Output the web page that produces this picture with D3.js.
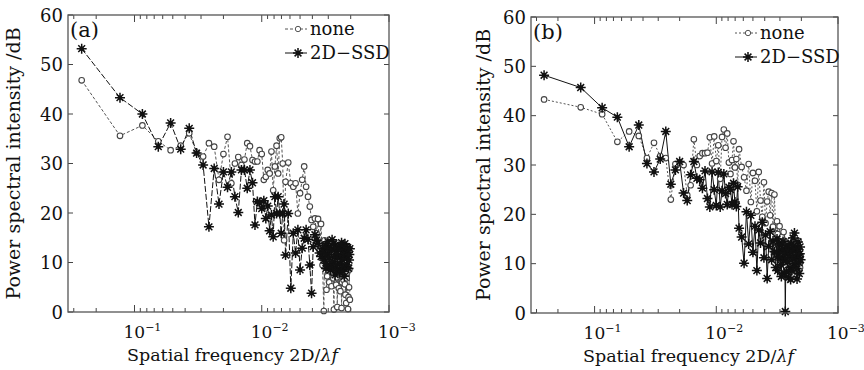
<!DOCTYPE html>
<html>
<head>
<meta charset="utf-8">
<script src="https://cdn.jsdelivr.net/npm/d3@7"></script>
<style>
  body { margin: 0; background: #fff; }
  text { font-family: "DejaVu Serif", serif; fill: #111; }
</style>
</head>
<body>
<script>
// spatial frequency grid (shared by both panels)
const freq = [0.26, 0.13, 0.08667, 0.065, 0.052, 0.04333, 0.03714, 0.0325, 0.02889, 0.026,
  0.02364, 0.02167, 0.02, 0.01857, 0.01733, 0.01625, 0.01529, 0.01444, 0.01368, 0.013,
  0.01238, 0.01182, 0.0113, 0.01083, 0.0104, 0.01, 0.00963, 0.00929, 0.00897, 0.00867,
  0.00839, 0.00813, 0.00788, 0.00765, 0.00743, 0.00722, 0.00703, 0.00684, 0.00667, 0.0065,
  0.00619, 0.00591, 0.00565, 0.00542, 0.0052, 0.005, 0.00481, 0.00464, 0.00448, 0.00433,
  0.00419, 0.00406, 0.00394, 0.00382, 0.00371, 0.00361, 0.00351, 0.00342, 0.00333,
  0.00325, 0.00321, 0.00317, 0.00313, 0.0031, 0.00306, 0.00302, 0.00299, 0.00295, 0.00292,
  0.00289, 0.00286, 0.00283, 0.0028, 0.00277, 0.00274, 0.00271, 0.00268, 0.00265, 0.00263,
  0.0026, 0.00257, 0.00255, 0.00252, 0.0025, 0.00248, 0.00245, 0.00243, 0.00241, 0.00239,
  0.00236, 0.00234, 0.00232, 0.0023, 0.00228, 0.00226, 0.00224, 0.00222, 0.0022, 0.00218,
  0.00217, 0.00215, 0.00213, 0.00211, 0.0021, 0.00208, 0.00206, 0.00205, 0.00203];

// panel (a)
const noneA = [46.8, 35.6, 37.7, 34.5, 32.7, 33.6, 36.1, 32.2, 31.4, 34.1,
  33.4, 26.7, 31.9, 35.4, 26.0, 30.0, 31.3, 29.7, 30.8, 34.1,
  33.5, 30.7, 30.4, 30.4, 32.7, 31.9, 26.7, 27.3, 28.7, 28.0,
  32.4, 24.6, 29.4, 33.6, 28.0, 35.1, 35.3, 30.0, 14.5, 26.3,
  30.2, 26.0, 25.3, 26.0, 19.9, 24.0, 26.7, 29.4, 25.3, 23.3,
  21.3, 18.6, 17.2, 18.9, 15.9, 18.8, 12.5, 17.8, 9.5,
  0.2, 14.5, 12.0, 9.0, 4.5, 7.2, 13.2, 10.8, 6.0, 14.0,
  11.5, 8.4, 5.2, 12.2, 8.8, 6.8, 0.5, 9.6, 10.5, 13.0,
  5.5, 7.0, 1.0, 10.2, 7.8, 4.8, 11.2, 9.0, 4.2, 12.0,
  0.8, 6.0, 9.2, 11.0, 6.5, 8.2, 12.5, 5.6, 3.5, 10.0,
  1.8, 6.8, 8.0, 11.6, 0.6, 3.0, 5.0, 8.6, 2.5];
const ssdA = [53.2, 43.3, 40.0, 33.4, 38.2, 32.9, 37.1, 32.1, 29.7, 17.2,
  29.0, 21.8, 28.3, 25.2, 28.3, 23.3, 20.1, 28.7, 28.7, 25.0,
  28.7, 26.1, 17.6, 22.3, 22.1, 20.9, 22.5, 18.9, 21.4, 16.4,
  19.6, 15.2, 23.3, 19.9, 23.3, 19.9, 15.9, 19.9, 21.8, 11.5,
  19.9, 4.8, 15.9, 11.9, 16.6, 8.5, 12.9, 14.9, 16.6, 14.7,
  9.5, 3.8, 13.2, 15.6, 14.5, 13.9, 11.9, 11.2, 12.8,
  10.5, 12.0, 13.5, 8.8, 9.8, 11.6, 14.2, 13.0, 11.0, 9.4,
  8.5, 12.4, 12.8, 14.6, 10.2, 9.0, 13.8, 11.2, 7.5, 13.5,
  12.2, 8.4, 9.6, 11.0, 13.0, 12.8, 8.0, 9.8, 11.5, 13.4,
  14.0, 10.6, 9.0, 8.2, 12.5, 11.4, 7.2, 13.8, 11.8, 9.2,
  13.2, 10.8, 9.5, 13.0, 12.0, 8.8, 10.5, 11.6, 12.8];

// panel (b)
const noneB = [43.3, 41.7, 40.3, 34.7, 36.8, 35.9, 31.4, 34.5, 31.8, 31.4,
  23.0, 30.2, 30.5, 30.0, 23.9, 25.9, 35.2, 30.0, 31.8, 32.4,
  32.4, 32.5, 35.6, 30.3, 35.8, 30.8, 34.0, 27.2, 35.7, 37.2,
  33.5, 36.4, 30.5, 28.2, 31.0, 34.8, 29.5, 31.2, 26.0, 33.2,
  29.6, 27.5, 24.8, 30.2, 22.5, 28.4, 26.8, 20.6, 28.6, 22.8,
  19.5, 26.5, 18.2, 22.6, 24.6, 19.8, 24.3, 17.5, 24.0,
  16.2, 14.2, 18.6, 16.0, 13.8, 12.0, 17.6, 15.0, 11.8, 13.4,
  15.4, 10.8, 12.5, 16.4, 14.6, 12.8, 10.2, 9.4, 13.5, 14.2,
  8.8, 11.2, 12.6, 9.0, 11.0, 13.6, 14.8, 12.0, 9.6, 10.6,
  12.2, 14.4, 7.6, 9.8, 13.0, 11.8, 10.4, 8.4, 14.0, 12.6,
  8.6, 10.2, 11.6, 14.6, 13.2, 11.0, 9.8, 9.2, 11.4];
const ssdB = [48.2, 45.7, 41.6, 39.7, 33.7, 38.1, 30.3, 28.6, 31.2, 36.8,
  26.1, 29.0, 30.7, 24.3, 22.8, 28.0, 30.7, 27.3, 27.0, 25.3,
  28.8, 23.2, 21.5, 28.6, 25.0, 21.8, 28.5, 21.5, 24.8, 28.2,
  24.2, 22.0, 25.5, 25.0, 22.0, 26.3, 22.5, 21.6, 25.6, 17.2,
  15.4, 10.1, 20.5, 14.0, 19.8, 12.3, 17.6, 8.6, 16.8, 14.2,
  18.4, 11.2, 15.8, 7.0, 13.5, 16.5, 10.8, 14.6, 12.4,
  9.2, 12.4, 15.0, 8.6, 11.5, 14.0, 13.8, 11.2, 9.8, 7.4,
  12.6, 13.0, 14.5, 10.6, 8.0, 12.2, 0.3, 11.0, 13.2, 8.4,
  10.4, 13.8, 7.2, 11.6, 12.9, 9.2, 6.8, 12.4, 14.0, 8.6,
  11.0, 15.2, 13.6, 10.0, 16.2, 12.6, 9.4, 11.4, 12.8, 9.0,
  6.9, 13.0, 14.4, 11.8, 10.2, 8.0, 12.0, 13.4, 10.8];

const yTicks = [0, 10, 20, 30, 40, 50, 60];
const xMajor = [0.1, 0.01, 0.001];
const xMajorExp = ["\u22121", "\u22122", "\u22123"];
const seriesNames = ["none", "2D\u2212SSD"];

const width = 864, height = 370;
const svg = d3.select("body").append("svg")
  .attr("width", width).attr("height", height);

const panels = [
  { left: 68, right: 389, top: 15, bottom: 312, tag: "(a)", none: noneA, ssd: ssdA,
    noneDash: "3,2", ssdDash: "6,2", legX: 285, legY: 29, yTitleX: 20 },
  { left: 531, right: 838, top: 17, bottom: 313, tag: "(b)", none: noneB, ssd: ssdB,
    noneDash: "2,2", ssdDash: null, legX: 735, legY: 33, yTitleX: 490 }
];

const starPath = "M-5,0H5M0,-5V5M-3.4,-3.4L3.4,3.4M-3.4,3.4L3.4,-3.4";

function drawStar(sel) {
  sel.append("path").attr("d", starPath)
    .attr("stroke", "#111").attr("stroke-width", 1.5).attr("fill", "none");
  sel.append("circle").attr("r", 2.2).attr("fill", "#111");
}

panels.forEach(p => {
  const g = svg.append("g");
  const x = d3.scaleLog().domain([0.333, 0.001]).range([p.left, p.right]);
  const y = d3.scaleLinear().domain([0, 60]).range([p.bottom, p.top]);

  // minor + major x ticks, bottom and top, pointing inward
  const minors = [];
  [0.1, 0.01, 0.001].forEach(dec => {
    for (let m = 1; m <= 9; m++) {
      const v = dec * m;
      if (v <= 0.333 && v >= 0.001) minors.push(v);
    }
  });
  const tickG = g.append("g").attr("stroke", "#444").attr("stroke-width", 1);
  minors.forEach(v => {
    const major = xMajor.includes(v);
    const len = major ? 7 : 4;
    tickG.append("line").attr("x1", x(v)).attr("x2", x(v))
      .attr("y1", p.bottom).attr("y2", p.bottom - len);
    tickG.append("line").attr("x1", x(v)).attr("x2", x(v))
      .attr("y1", p.top).attr("y2", p.top + len);
  });
  yTicks.forEach(t => {
    tickG.append("line").attr("x1", p.left).attr("x2", p.left + 5)
      .attr("y1", y(t)).attr("y2", y(t));
    tickG.append("line").attr("x1", p.right).attr("x2", p.right - 5)
      .attr("y1", y(t)).attr("y2", y(t));
  });

  // y tick labels
  g.append("g").selectAll("text").data(yTicks).join("text")
    .attr("x", p.left - 5).attr("y", d => y(d) + 6.5)
    .attr("text-anchor", "end").attr("font-size", 18)
    .text(d => d);

  // x tick labels 10^n
  xMajor.forEach((v, i) => {
    const t = g.append("text").attr("x", x(v) - 11).attr("y", p.bottom + 26)
      .attr("font-size", 17);
    t.append("tspan").text("10");
    t.append("tspan").attr("dy", -7).attr("font-size", 11).text(xMajorExp[i]);
  });

  // axis titles
  const xt = g.append("text").attr("x", (p.left + p.right) / 2 + 4).attr("y", p.bottom + 49)
    .attr("text-anchor", "middle").attr("font-size", 17.5);
  xt.append("tspan").text("Spatial frequency 2D/");
  xt.append("tspan").attr("font-style", "italic").text("\u03bbf");

  g.append("text")
    .attr("transform", `translate(${p.yTitleX},${(p.top + p.bottom) / 2}) rotate(-90)`)
    .attr("text-anchor", "middle").attr("font-size", 19)
    .text("Power spectral intensity /dB");

  // data
  const pts = s => freq.map((f, i) => [f, s[i]]);
  const line = d3.line().x(d => x(d[0])).y(d => y(d[1]));

  g.append("path").datum(pts(p.none)).attr("d", line)
    .attr("fill", "none").attr("stroke", "#555").attr("stroke-width", 1)
    .attr("stroke-dasharray", p.noneDash);
  g.append("path").datum(pts(p.ssd)).attr("d", line)
    .attr("fill", "none").attr("stroke", "#111").attr("stroke-width", 1)
    .attr("stroke-dasharray", p.ssdDash);

  g.append("g").selectAll("circle").data(pts(p.none)).join("circle")
    .attr("cx", d => x(d[0])).attr("cy", d => y(d[1])).attr("r", 2.8)
    .attr("fill", "#fff").attr("stroke", "#444").attr("stroke-width", 1.1);

  g.append("g").selectAll("g").data(pts(p.ssd)).join("g")
    .attr("transform", d => `translate(${x(d[0])},${y(d[1])})`)
    .call(drawStar);

  // frame
  g.append("rect").attr("x", p.left).attr("y", p.top)
    .attr("width", p.right - p.left).attr("height", p.bottom - p.top)
    .attr("fill", "none").attr("stroke", "#555").attr("stroke-width", 1.3);

  // panel tag
  g.append("text").attr("x", p.left + 2).attr("y", p.top + 22)
    .attr("font-size", 21).text(p.tag);

  // legend
  const lg = g.append("g");
  lg.append("line").attr("x1", p.legX).attr("x2", p.legX + 22)
    .attr("y1", p.legY).attr("y2", p.legY)
    .attr("stroke", "#555").attr("stroke-dasharray", p.noneDash);
  lg.append("circle").attr("cx", p.legX + 13).attr("cy", p.legY).attr("r", 2.7)
    .attr("fill", "#fff").attr("stroke", "#555");
  lg.append("text").attr("x", p.legX + 25).attr("y", p.legY + 6)
    .attr("font-size", 18).text(seriesNames[0]);
  lg.append("line").attr("x1", p.legX).attr("x2", p.legX + 22)
    .attr("y1", p.legY + 24).attr("y2", p.legY + 24)
    .attr("stroke", "#111");
  lg.append("g").attr("transform", `translate(${p.legX + 13},${p.legY + 24})`).call(drawStar);
  lg.append("text").attr("x", p.legX + 25).attr("y", p.legY + 30)
    .attr("font-size", 18).text(seriesNames[1]);
});
</script>
</body>
</html>
